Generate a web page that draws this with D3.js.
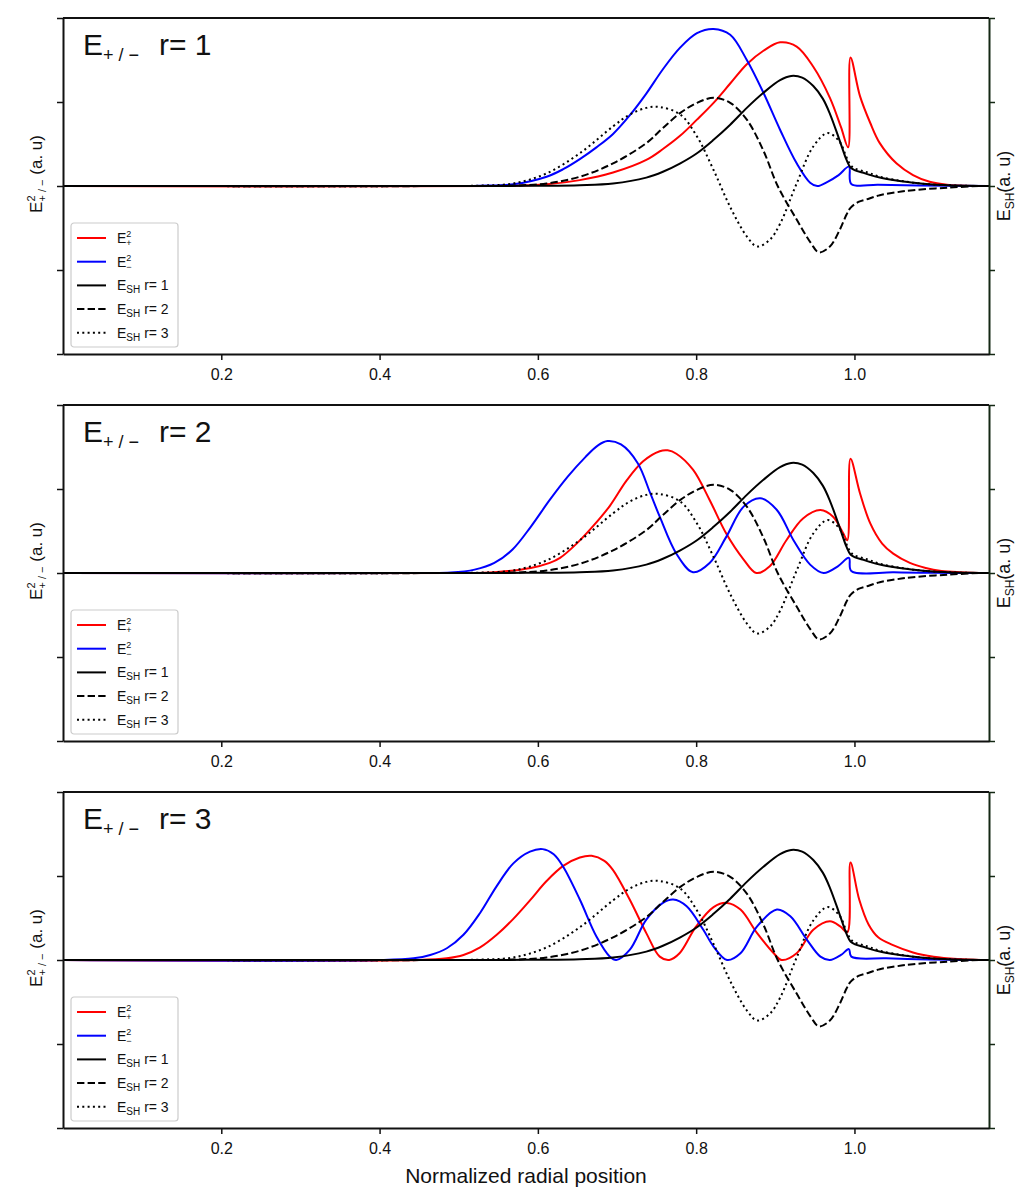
<!DOCTYPE html>
<html>
<head>
<meta charset="utf-8">
<script src="https://cdn.jsdelivr.net/npm/d3@7"></script>
<style>
  body { margin: 0; background: #fff; }
  svg text { font-family: "Liberation Sans", Arial, sans-serif; fill: #111; }
</style>
</head>
<body>
<div id="chart"></div>
<script>
// x ticks and panel numbers
const xTicks = [0.2, 0.4, 0.6, 0.8, 1.0];
const yTicks = [-2, -1, 0, 1, 2];
const rValues = [1, 2, 3];

// E_SH curves (same in every panel), [position, value]
const esh1 = [[0,0],[0.55,0],[0.60,0.003],[0.653,0.01],[0.695,0.03],[0.737,0.10],[0.758,0.17],[0.78,0.27],[0.801,0.39],[0.822,0.55],[0.843,0.73],[0.864,0.93],[0.885,1.11],[0.906,1.26],[0.92,1.31],[0.934,1.29],[0.948,1.19],[0.96,1.04],[0.969,0.86],[0.981,0.55],[0.99,0.31],[0.995,0.22],[1.0,0.19],[1.01,0.16],[1.02,0.13],[1.032,0.10],[1.053,0.065],[1.074,0.04],[1.095,0.02],[1.117,0.01],[1.15,0.002],[1.17,0]];
const esh2 = [[0,0],[0.52,0],[0.569,0.005],[0.611,0.03],[0.653,0.11],[0.695,0.27],[0.737,0.51],[0.758,0.69],[0.78,0.87],[0.801,0.99],[0.822,1.05],[0.843,0.99],[0.864,0.79],[0.885,0.42],[0.903,0],[0.927,-0.40],[0.945,-0.68],[0.955,-0.79],[0.969,-0.72],[0.981,-0.53],[0.99,-0.34],[0.995,-0.26],[1.005,-0.19],[1.015,-0.16],[1.032,-0.11],[1.053,-0.075],[1.074,-0.05],[1.117,-0.02],[1.16,0],[1.17,0]];
const esh3 = [[0,0],[0.48,0],[0.527,0.005],[0.569,0.03],[0.611,0.15],[0.653,0.39],[0.695,0.71],[0.716,0.85],[0.737,0.93],[0.754,0.94],[0.78,0.85],[0.801,0.59],[0.822,0.19],[0.843,-0.25],[0.864,-0.60],[0.877,-0.72],[0.893,-0.64],[0.906,-0.45],[0.927,0.03],[0.948,0.47],[0.966,0.63],[0.981,0.53],[0.99,0.34],[0.995,0.25],[1.0,0.21],[1.01,0.18],[1.02,0.15],[1.032,0.11],[1.053,0.07],[1.074,0.04],[1.095,0.02],[1.117,0.01],[1.15,0],[1.17,0]];

// E+^2 and E-^2 for r = 1
const ePlus1 = [[0,0],[0.55,0],[0.611,0.02],[0.653,0.07],[0.695,0.16],[0.737,0.31],[0.758,0.44],[0.78,0.60],[0.801,0.79],[0.822,0.99],[0.843,1.22],[0.864,1.45],[0.885,1.61],[0.906,1.71],[0.927,1.66],[0.948,1.42],[0.969,1.05],[0.983,0.70],[0.992,0.46],[0.995,1.53],[1.007,1.07],[1.02,0.75],[1.032,0.51],[1.053,0.27],[1.074,0.13],[1.095,0.05],[1.117,0.015],[1.15,0],[1.17,0]];
const eMinus1 = [[0,0],[0.50,0],[0.527,0.003],[0.569,0.02],[0.611,0.11],[0.632,0.20],[0.653,0.32],[0.674,0.46],[0.695,0.62],[0.716,0.84],[0.737,1.10],[0.758,1.39],[0.78,1.65],[0.801,1.82],[0.822,1.87],[0.843,1.80],[0.864,1.50],[0.885,1.11],[0.906,0.67],[0.927,0.27],[0.944,0.04],[0.953,0],[0.966,0.05],[0.98,0.13],[0.993,0.23],[0.996,0.025],[1.03,0.015],[1.08,0.005],[1.17,0]];

// r = 2
const ePlus2 = [[0,0],[0.50,0],[0.545,0.01],[0.591,0.06],[0.615,0.12],[0.628,0.18],[0.649,0.35],[0.670,0.56],[0.691,0.80],[0.712,1.10],[0.733,1.33],[0.754,1.45],[0.764,1.46],[0.775,1.42],[0.796,1.23],[0.817,0.87],[0.838,0.47],[0.86,0.16],[0.876,0],[0.893,0.08],[0.914,0.39],[0.935,0.65],[0.957,0.75],[0.973,0.67],[0.986,0.47],[0.991,0.39],[0.995,1.36],[1.007,0.95],[1.02,0.59],[1.035,0.35],[1.049,0.23],[1.07,0.12],[1.09,0.06],[1.11,0.025],[1.133,0.01],[1.17,0]];
const eMinus2 = [[0,0],[0.45,0],[0.49,0.005],[0.52,0.04],[0.545,0.12],[0.568,0.28],[0.591,0.55],[0.615,0.87],[0.638,1.15],[0.66,1.38],[0.676,1.52],[0.688,1.57],[0.705,1.53],[0.726,1.31],[0.742,0.95],[0.754,0.67],[0.775,0.23],[0.796,0.01],[0.817,0.12],[0.838,0.43],[0.86,0.79],[0.881,0.89],[0.902,0.75],[0.923,0.39],[0.944,0.10],[0.961,0],[0.979,0.08],[0.993,0.18],[0.996,0.025],[1.05,0.008],[1.1,0.002],[1.17,0]];

// r = 3
const ePlus3 = [[0,0],[0.45,0],[0.485,0.02],[0.506,0.06],[0.527,0.15],[0.548,0.30],[0.569,0.49],[0.59,0.71],[0.611,0.94],[0.632,1.12],[0.653,1.22],[0.668,1.24],[0.684,1.18],[0.695,1.07],[0.716,0.72],[0.737,0.32],[0.754,0.04],[0.766,0],[0.779,0.08],[0.80,0.40],[0.822,0.63],[0.839,0.68],[0.856,0.60],[0.877,0.32],[0.898,0.08],[0.908,0],[0.927,0.08],[0.948,0.36],[0.969,0.46],[0.982,0.40],[0.991,0.33],[0.995,1.16],[1.006,0.72],[1.018,0.42],[1.03,0.27],[1.048,0.18],[1.074,0.09],[1.10,0.04],[1.13,0.012],[1.16,0],[1.17,0]];
const eMinus3 = [[0,0],[0.40,0],[0.443,0.02],[0.464,0.06],[0.485,0.14],[0.506,0.30],[0.527,0.56],[0.548,0.88],[0.569,1.15],[0.59,1.29],[0.606,1.32],[0.62,1.26],[0.632,1.11],[0.653,0.72],[0.674,0.28],[0.691,0.04],[0.699,0],[0.716,0.12],[0.737,0.48],[0.758,0.68],[0.771,0.72],[0.788,0.64],[0.809,0.36],[0.822,0.16],[0.839,0],[0.856,0.08],[0.877,0.40],[0.902,0.60],[0.919,0.52],[0.94,0.24],[0.957,0.04],[0.969,0],[0.983,0.06],[0.993,0.13],[0.996,0.04],[1.04,0.02],[1.08,0.008],[1.12,0.002],[1.17,0]];

const ePlus = [ePlus1, ePlus2, ePlus3];
const eMinus = [eMinus1, eMinus2, eMinus3];

// layout
const margin = { left: 63, top: 18 };
const panelW = 926, panelH = 336, panelStep = 387;

const svg = d3.select("#chart").append("svg")
  .attr("width", 1019)
  .attr("height", 1191);

const x = d3.scaleLinear().domain([0, 1.17]).range([0, panelW]);
const y = d3.scaleLinear().domain([-2, 2]).range([panelH, 0]);

const line = d3.line()
  .x(d => x(d[0]))
  .y(d => y(d[1]))
  .curve(d3.curveCatmullRom.alpha(0.5));

const styles = {
  plus:  { stroke: "#ff0000", dash: null },
  minus: { stroke: "#0000ff", dash: null },
  r1:    { stroke: "#000", dash: null },
  r2:    { stroke: "#000", dash: "7.4,3.2" },
  r3:    { stroke: "#000", dash: "2,3.3" }
};

svg.append("defs").append("clipPath").attr("id", "clip")
  .append("rect").attr("width", panelW).attr("height", panelH);

rValues.forEach((r, i) => {
  const g = svg.append("g")
    .attr("transform", `translate(${margin.left},${margin.top + i * panelStep})`);

  // curves
  const series = [
    [ePlus[i], styles.plus],
    [eMinus[i], styles.minus],
    [esh1, styles.r1],
    [esh2, styles.r2],
    [esh3, styles.r3]
  ];
  const plot = g.append("g").attr("clip-path", "url(#clip)");
  series.forEach(([data, s]) => {
    plot.append("path")
      .datum(data)
      .attr("fill", "none")
      .attr("stroke", s.stroke)
      .attr("stroke-width", 2)
      .attr("stroke-dasharray", s.dash)
      .attr("d", line);
  });

  // axes
  g.append("g").attr("class", "y-axis")
    .call(d3.axisLeft(y).tickValues(yTicks).tickFormat("").tickSize(6).tickSizeOuter(0));
  g.append("g").attr("class", "y-axis-right")
    .attr("transform", `translate(${panelW},0)`)
    .call(d3.axisRight(y).tickValues(yTicks).tickFormat("").tickSize(6).tickSizeOuter(0));
  g.append("g").attr("class", "x-axis")
    .attr("transform", `translate(0,${panelH})`)
    .call(d3.axisBottom(x).tickValues(xTicks).tickFormat(d3.format(".1f")).tickSize(6).tickPadding(9).tickSizeOuter(0));
  g.append("line")
    .attr("x1", 0).attr("x2", panelW).attr("y1", 0).attr("y2", 0)
    .attr("stroke", "#111").attr("stroke-width", 2);

  g.selectAll(".domain").attr("stroke", "#111").attr("stroke-width", 2);
  g.selectAll(".tick line").attr("stroke", "#111").attr("stroke-width", 1.5);
  g.selectAll(".y-axis-right .domain, .y-axis-right .tick line").attr("stroke", "#142814");
  g.selectAll(".x-axis text").attr("font-size", 16).attr("fill", "#111")
    .style("font-family", '"Liberation Sans", Arial, sans-serif');

  // panel title
  const title = g.append("text").attr("x", 20).attr("y", 37).attr("font-size", 30);
  title.append("tspan").text("E");
  title.append("tspan").attr("font-size", 18).attr("dy", 6).text("+ / \u2212");
  g.append("text").attr("x", 96).attr("y", 37).attr("font-size", 30).text(`r= ${r}`);

  // left label
  const yl = g.append("text")
    .attr("transform", `translate(-21,${panelH / 2 - 12}) rotate(-90)`)
    .attr("text-anchor", "middle")
    .attr("font-size", 17);
  yl.append("tspan").text("E");
  yl.append("tspan").attr("font-size", 11).attr("dy", -7).text("2");
  yl.append("tspan").attr("font-size", 11).attr("dx", -6).attr("dy", 11).text("+ / \u2212");
  yl.append("tspan").attr("dy", -4).text(" (a. u)");

  // right label
  const yr = g.append("text")
    .attr("transform", `translate(${panelW + 21},${panelH / 2}) rotate(-90)`)
    .attr("text-anchor", "middle")
    .attr("font-size", 18);
  yr.append("tspan").text("E");
  yr.append("tspan").attr("font-size", 12).attr("dy", 4).text("SH");
  yr.append("tspan").attr("dy", -4).text("(a. u)");

  // legend
  const lg = g.append("g").attr("transform", "translate(8,205)");
  lg.append("rect")
    .attr("width", 107).attr("height", 124).attr("rx", 3)
    .attr("fill", "#fff").attr("stroke", "#cccccc").attr("stroke-width", 1.2);
  const entries = [
    { s: styles.plus, sub: "+", kind: "e" },
    { s: styles.minus, sub: "\u2212", kind: "e" },
    { s: styles.r1, r: 1, kind: "sh" },
    { s: styles.r2, r: 2, kind: "sh" },
    { s: styles.r3, r: 3, kind: "sh" }
  ];
  entries.forEach((e, k) => {
    const cy = 15 + k * 23.7;
    lg.append("line")
      .attr("x1", 6).attr("x2", 35).attr("y1", cy).attr("y2", cy)
      .attr("stroke", e.s.stroke).attr("stroke-width", 2)
      .attr("stroke-dasharray", e.s.dash);
    const t = lg.append("text").attr("x", 46).attr("y", cy + 5).attr("font-size", 14);
    t.append("tspan").text("E");
    if (e.kind === "e") {
      t.append("tspan").attr("font-size", 9).attr("dy", -6).text("2");
      t.append("tspan").attr("font-size", 9).attr("dx", -5).attr("dy", 9).text(e.sub);
    } else {
      t.append("tspan").attr("font-size", 10).attr("dy", 3).text("SH");
      t.append("tspan").attr("dy", -3).text(` r= ${e.r}`);
    }
  });

  if (i === rValues.length - 1) {
    g.append("text")
      .attr("x", panelW / 2).attr("y", panelH + 55)
      .attr("text-anchor", "middle")
      .attr("font-size", 21)
      .text("Normalized radial position");
  }
});
</script>
</body>
</html>
